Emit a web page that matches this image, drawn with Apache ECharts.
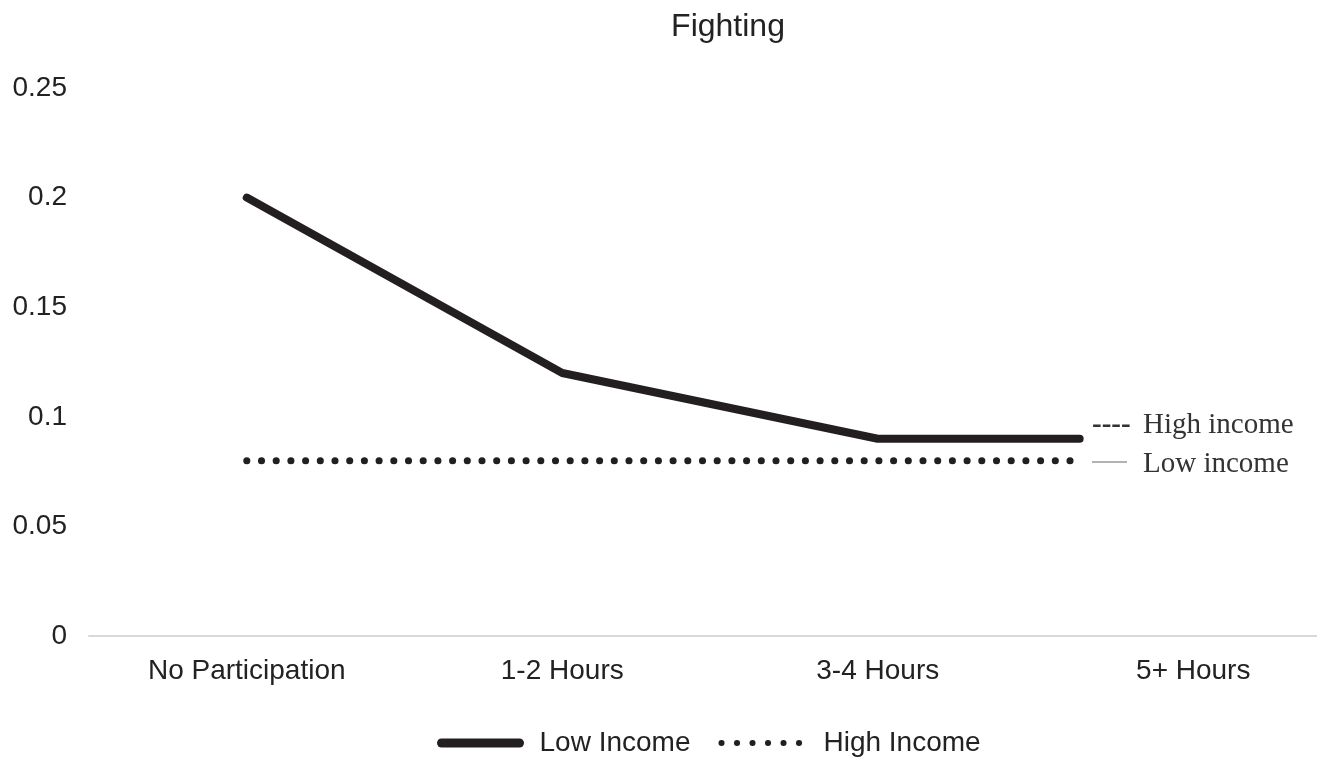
<!DOCTYPE html>
<html>
<head>
<meta charset="utf-8">
<style>
  html, body { margin: 0; padding: 0; background: #fff; overflow: hidden; }
  /* wider than the window: the original's last category runs past the right edge */
  #chart { width: 1360px; height: 760px; }
</style>
<script src="https://cdn.jsdelivr.net/npm/echarts@6/dist/echarts.min.js"></script>
</head>
<body>
<div id="chart"></div>
<script>
// categories and values
const categories = ['No Participation', '1-2 Hours', '3-4 Hours', '5+ Hours']
// lines stop short of the last category in the original
const xPositions = [0, 1, 2, 2.64]
const lowIncome = [0.2, 0.12, 0.09, 0.09]
const highIncome = [0.08, 0.08, 0.08, 0.08]
const yTicks = { min: 0, max: 0.25, interval: 0.05 }

const font = "'Liberation Sans', Arial, sans-serif"
const serif = "'Liberation Serif', 'Times New Roman', serif"
const ink = '#231f20'

function pairs(vals) {
  return vals.map((v, i) => [xPositions[i], v])
}

let myChart = echarts.init(document.getElementById('chart'))

let options = {
  animation: false,
  title: {
    text: 'Fighting',
    left: 723,
    top: 6,
    textAlign: 'center',
    textStyle: { fontFamily: font, fontSize: 32, fontWeight: 'normal', color: '#222' }
  },
  legend: {
    left: 432,
    top: 724,
    itemWidth: 78,
    itemHeight: 28,
    itemGap: 28,
    itemStyle: { opacity: 0 },
    textStyle: { fontFamily: font, fontSize: 28, color: '#222' },
    data: [
      {
        name: 'Low Income',
        lineStyle: { width: 9, type: 'solid', cap: 'round', color: ink },
        textStyle: { padding: [0, 0, 0, 15] }
      },
      {
        name: 'High Income',
        lineStyle: { width: 6, type: [0.1, 15.4], cap: 'round', color: ink },
        textStyle: { padding: [0, 0, 0, 19] }
      }
    ]
  },
  grid: { left: 89, right: 9, top: 88, bottom: 124 },
  xAxis: [
    {
      type: 'category',
      data: categories,
      axisLine: { lineStyle: { color: '#d9d9d9', width: 2 } },
      axisTick: { show: false },
      axisLabel: { fontFamily: font, fontSize: 28, color: '#222', margin: 21 }
    },
    { type: 'value', min: -0.5, max: 3.5, show: false }
  ],
  yAxis: {
    type: 'value',
    min: yTicks.min,
    max: yTicks.max,
    interval: yTicks.interval,
    axisLine: { show: false },
    axisTick: { show: false },
    splitLine: { show: false },
    axisLabel: {
      fontFamily: font, fontSize: 28, color: '#222', margin: 22,
      formatter: v => String(+v.toFixed(2))
    }
  },
  series: [
    {
      name: 'Low Income',
      type: 'line',
      xAxisIndex: 1,
      symbol: 'none',
      color: ink,
      lineStyle: { width: 8, color: ink, cap: 'round', join: 'round' },
      data: pairs(lowIncome)
    },
    {
      name: 'High Income',
      type: 'line',
      xAxisIndex: 1,
      symbol: 'none',
      color: ink,
      lineStyle: { width: 7, color: ink, type: [0.1, 14.6], cap: 'round' },
      data: pairs(highIncome)
    }
  ],
  graphic: [
    { type: 'text', left: 1092, top: 411, style: { text: '----', font: 'bold 29px ' + serif, fill: '#333' } },
    { type: 'text', left: 1143, top: 411, style: { text: 'High income', font: '29px ' + serif, fill: '#333' } },
    { type: 'line', shape: { x1: 1092, y1: 462, x2: 1127, y2: 462 }, style: { stroke: '#666', lineWidth: 1.2 } },
    { type: 'text', left: 1143, top: 450, style: { text: 'Low income', font: '29px ' + serif, fill: '#333' } }
  ]
}

myChart.setOption(options)
</script>
</body>
</html>
